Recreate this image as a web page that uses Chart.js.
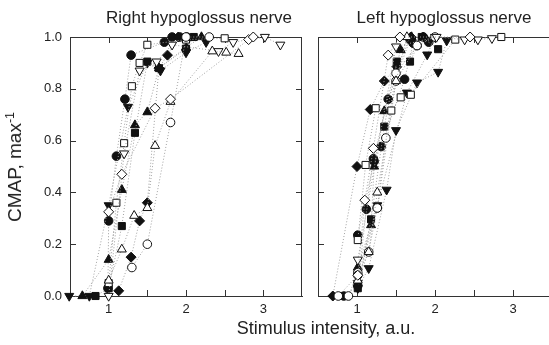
<!DOCTYPE html>
<html>
<head>
<meta charset="utf-8">
<script src="https://cdn.jsdelivr.net/npm/chart.js@4.4.0/dist/chart.umd.min.js"></script>
<style>
  body { margin: 0; width: 549px; height: 345px; overflow: hidden; background: #fff; position: relative;
         font-family: 'Liberation Sans', Arial, sans-serif; color: #222; }
  canvas { position: absolute; left: 0; top: 0; }
  .lbl { position: absolute; white-space: nowrap; transform: translate(-50%, -50%); }
  #ylab { transform: translate(-50%, -50%) rotate(-90deg); }
  sup { font-size: 65%; vertical-align: 0.55em; line-height: 0; }
</style>
</head>
<body>
<canvas id="rightNerve" width="560" height="345"></canvas>
<canvas id="leftNerve" width="560" height="345"></canvas>
<div class="lbl" style="left:199px; top:18px; font-size:17px;">Right hypoglossus nerve</div>
<div class="lbl" style="left:444px; top:18px; font-size:17px;">Left hypoglossus nerve</div>
<div class="lbl" id="ylab" style="left:15px; top:167px; font-size:19px;">CMAP, max<sup>-1</sup></div>
<div class="lbl" style="left:326px; top:328px; font-size:18px;">Stimulus intensity, a.u.</div>
<script>
// x axis: stimulus intensity (a.u.), y axis: CMAP normalised to max
const xTicks = [0.5, 1, 1.5, 2, 2.5, 3, 3.5];
const yTicks = [0, 0.2, 0.4, 0.6, 0.8, 1.0];

// Right hypoglossus nerve, one array per recording  [intensity, CMAP]
const rhFilledCircle   = [[0.99,0.03],[1.0,0.29],[1.1,0.54],[1.21,0.76],[1.29,0.93],[1.72,0.98],[1.82,1.0],[1.92,1.0],[2.01,1.0]];
const rhOpenCircle     = [[1.3,0.11],[1.5,0.2],[1.8,0.67],[2.0,1.0],[2.3,1.0]];
const rhFilledTriangle = [[0.66,0],[1.0,0.14],[1.17,0.41],[1.34,0.66],[1.5,0.71],[1.65,0.88],[2.0,0.96],[2.2,1.0]];
const rhOpenTriangle   = [[1.0,0.06],[1.17,0.18],[1.33,0.31],[1.5,0.34],[1.6,0.58],[1.8,0.75],[2.34,0.945],[2.52,0.94],[2.68,0.935]];
const rhFilledInvTri   = [[0.49,0],[0.75,0],[1.0,0.35],[1.25,0.73],[1.5,0.9],[1.67,0.87],[2.0,0.94],[2.26,0.98]];
const rhOpenInvTri     = [[1.0,0.0],[1.2,0.55],[1.4,0.87],[1.62,0.905],[1.82,0.97],[2.42,0.945],[2.61,0.98],[3.02,1.0],[3.22,0.97]];
const rhFilledSquare   = [[0.83,0],[1.0,0.03],[1.17,0.27],[1.34,0.63],[1.5,0.905],[1.65,0.88],[2.0,0.955],[2.1,1.0]];
const rhOpenSquare     = [[1.0,0.05],[1.1,0.36],[1.2,0.59],[1.3,0.81],[1.4,0.9],[1.5,0.97],[2.0,0.99],[2.5,0.995]];
const rhFilledDiamond  = [[1.13,0.02],[1.29,0.15],[1.4,0.29],[1.5,0.36],[1.65,0.88],[1.76,0.93],[1.9,1.0]];
const rhOpenDiamond    = [[1.0,0.325],[1.17,0.47],[1.6,0.725],[1.8,0.76],[2.81,0.99],[2.87,1.0]];

// Left hypoglossus nerve
const lhFilledDiamond  = [[0.69,0],[1.0,0.5],[1.17,0.72],[1.35,0.83],[1.51,0.885],[1.69,1.0],[1.85,1.0]];
const lhOpenCircle     = [[0.76,0],[1.01,0.08],[1.15,0.17],[1.26,0.34],[1.37,0.61],[1.5,0.86],[1.77,0.967],[2.0,1.0]];
const lhOpenCircleB    = [[0.89,0],[1.01,0.09],[1.26,0.34],[1.5,0.83],[1.77,0.967]];
const lhFilledCircle   = [[0.83,0],[1.01,0.04],[1.12,0.335],[1.21,0.53],[1.4,0.76],[1.68,0.99],[1.92,0.98]];
const lhFilledCircleB  = [[1.01,0.235],[1.22,0.52],[1.31,0.577],[1.61,0.837],[1.72,0.976],[1.85,1.0]];
const lhFilledInvTri   = [[1.01,0.03],[1.15,0.107],[1.38,0.41],[1.5,0.64],[1.77,0.824],[2.04,0.865],[2.15,0.986]];
const lhFilledInvTriB  = [[1.01,0.05],[1.26,0.35],[1.64,0.785],[1.9,0.932],[2.0,1.0]];
const lhFilledTriangle = [[1.01,0.11],[1.18,0.274],[1.22,0.5],[1.35,0.714],[1.56,0.95],[1.7,1.0]];
const lhOpenTriangle   = [[1.01,0.06],[1.15,0.17],[1.26,0.4],[1.5,0.83],[1.64,1.0]];
const lhOpenInvTri     = [[1.01,0.14],[1.5,0.963],[2.02,1.0],[2.38,0.99],[2.55,0.99],[2.73,0.995]];
const lhOpenSquare     = [[1.01,0.216],[1.11,0.506],[1.24,0.725],[1.44,0.716],[1.56,0.767],[1.69,0.777],[2.26,0.99],[2.85,1.0]];
const lhFilledSquare   = [[1.01,0.03],[1.18,0.296],[1.35,0.654],[1.51,0.905],[1.68,0.905],[1.83,1.0],[2.04,0.953]];
const lhOpenDiamond    = [[1.01,0.08],[1.1,0.37],[1.21,0.57],[1.4,0.93],[1.55,1.0],[2.45,1.0]];

// marker kinds: [pointStyle, filled, radius, rotation]
const MARK = {
    fc: ['circle', true, 4.3, 0],
    oc: ['circle', false, 4.3, 0],
    ft: ['triangle', true, 5.2, 0],
    ot: ['triangle', false, 5.2, 0],
    fi: ['triangle', true, 5.2, 180],
    oi: ['triangle', false, 5.2, 180],
    fs: ['rect', true, 5, 0],
    os: ['rect', false, 5, 0],
    fd: ['rectRot', true, 5, 0],
    od: ['rectRot', false, 5, 0]
};

function series(points, kind) {
    const m = MARK[kind];
    return {
        data: points.map(p => ({ x: p[0], y: p[1] })),
        borderColor: '#a0a0a0',
        borderWidth: 1,
        borderDash: [1, 2],
        pointStyle: m[0],
        pointRadius: m[2],
        pointRotation: m[3],
        pointBackgroundColor: m[1] ? '#111' : '#fff',
        pointBorderColor: '#111',
        pointBorderWidth: 1,
        fill: false,
        tension: 0,
        clip: false
    };
}

// box top/right edges and inward tick marks
const frameTicks = {
    id: 'frameTicks',
    beforeDatasetsDraw(chart, args, opts) {
        const { ctx, chartArea: a, scales } = chart;
        const len = 6;
        ctx.save();
        ctx.strokeStyle = '#333';
        ctx.lineWidth = 1;
        ctx.beginPath();
        const top = Math.round(a.top) + 0.5;
        ctx.moveTo(a.left, top); ctx.lineTo(a.right, top);
        if (opts.right) {
            const r = Math.round(a.right) - 0.5;
            ctx.moveTo(r, a.top); ctx.lineTo(r, a.bottom);
        }
        xTicks.forEach(v => {
            if (v <= scales.x.min || v >= scales.x.max) return;
            const px = Math.round(scales.x.getPixelForValue(v)) + 0.5;
            ctx.moveTo(px, a.bottom); ctx.lineTo(px, a.bottom - len);
            ctx.moveTo(px, a.top); ctx.lineTo(px, a.top + len);
        });
        yTicks.forEach(v => {
            if (v <= 0 || v >= 1) return;
            const py = Math.round(scales.y.getPixelForValue(v)) + 0.5;
            ctx.moveTo(a.left, py); ctx.lineTo(a.left + len, py);
            if (opts.right) { ctx.moveTo(a.right, py); ctx.lineTo(a.right - len, py); }
        });
        ctx.stroke();
        ctx.restore();
    }
};

const tickFont = { family: "'Liberation Sans', Arial, sans-serif", size: 13 };

function makeChart(id, datasets, cfg) {
    return new Chart(document.getElementById(id), {
        type: 'line',
        data: { datasets: datasets },
        plugins: [frameTicks],
        options: {
            responsive: false,
            animation: false,
            events: [],
            layout: { padding: { left: cfg.padLeft, right: cfg.padRight, top: 37, bottom: 0 } },
            plugins: {
                legend: { display: false },
                tooltip: { enabled: false },
                frameTicks: { right: cfg.rightEdge }
            },
            scales: {
                x: {
                    type: 'linear',
                    min: 0.5, max: 3.5,
                    afterBuildTicks: s => { s.ticks = xTicks.map(v => ({ value: v })); },
                    afterFit: s => { s.height = 49; },
                    grid: { display: false, drawTicks: false },
                    border: { display: true, color: '#333', width: 1 },
                    ticks: {
                        autoSkip: false, maxRotation: 0, padding: 6,
                        color: '#222', font: tickFont,
                        callback: v => Number.isInteger(v) ? String(v) : ''
                    }
                },
                y: {
                    type: 'linear',
                    min: 0, max: 1,
                    afterBuildTicks: s => { s.ticks = yTicks.map(v => ({ value: v })); },
                    afterFit: s => { s.width = cfg.yWidth; },
                    grid: { display: false, drawTicks: false },
                    border: { display: true, color: '#333', width: 1 },
                    ticks: {
                        display: cfg.yLabels, padding: 8,
                        color: '#222', font: tickFont,
                        callback: v => v.toFixed(1)
                    }
                }
            }
        }
    });
}

makeChart('leftNerve', [
    series(rhOpenDiamond, 'od'),
    series(rhOpenTriangle, 'ot'),
    series(rhOpenCircle, 'oc'),
    series(rhOpenInvTri, 'oi'),
    series(rhOpenSquare, 'os'),
    series(rhFilledDiamond, 'fd'),
    series(rhFilledSquare, 'fs'),
    series(rhFilledTriangle, 'ft'),
    series(rhFilledInvTri, 'fi'),
    series(rhFilledCircle, 'fc')
], { padLeft: 0, padRight: 258, yWidth: 70, yLabels: true, rightEdge: true });

makeChart('rightNerve', [
    series(lhOpenDiamond, 'od'),
    series(lhOpenInvTri, 'oi'),
    series(lhOpenSquare, 'os'),
    series(lhOpenTriangle, 'ot'),
    series(lhOpenCircle, 'oc'),
    series(lhOpenCircleB, 'oc'),
    series(lhFilledSquare, 'fs'),
    series(lhFilledTriangle, 'ft'),
    series(lhFilledInvTri, 'fi'),
    series(lhFilledInvTriB, 'fi'),
    series(lhFilledCircle, 'fc'),
    series(lhFilledCircleB, 'fc'),
    series(lhFilledDiamond, 'fd')
], { padLeft: 310, padRight: 8, yWidth: 8, yLabels: false, rightEdge: false });
</script>
</body>
</html>
